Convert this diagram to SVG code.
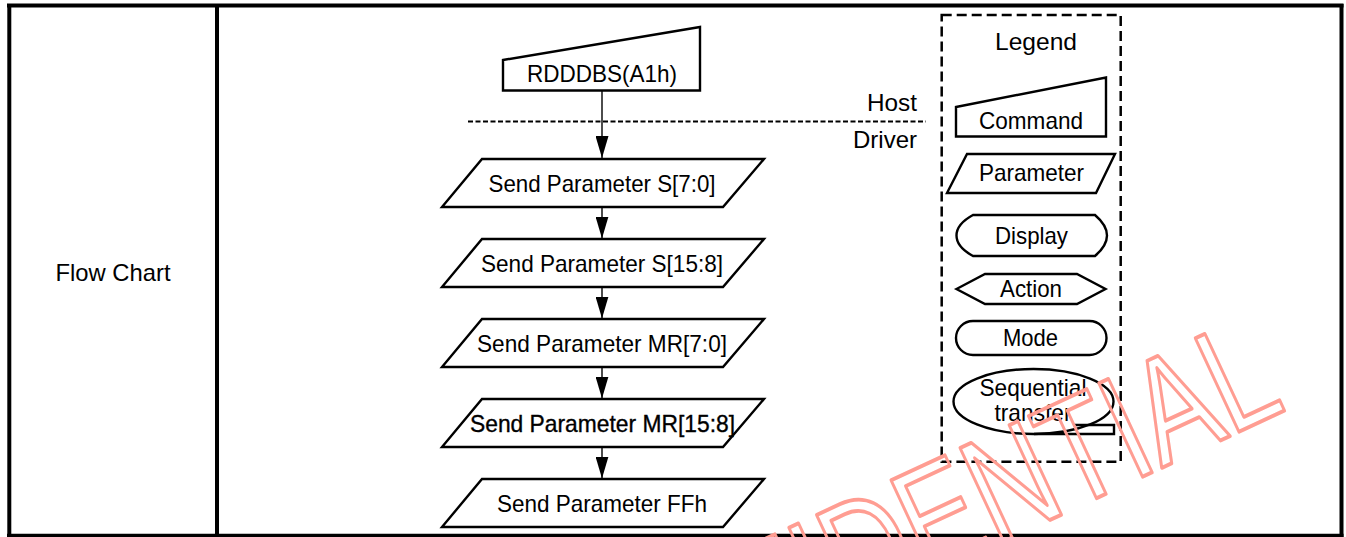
<svg xmlns="http://www.w3.org/2000/svg" width="1346" height="537" viewBox="0 0 1346 537">
<style>
  .frame { stroke: #000; stroke-width: 4; fill: none; }
  .shape { stroke: #000; stroke-width: 2.4; fill: none; stroke-linejoin: miter; }
  .conn { stroke: #000; stroke-width: 1.4; fill: none; }
  .sep { stroke: #000; stroke-width: 2; stroke-dasharray: 5 2.5; fill: none; }
  .legendbox { stroke: #000; stroke-width: 2.5; stroke-dasharray: 10 5; fill: none; }
  text { font-family: "Liberation Sans", Arial, Helvetica, sans-serif; font-size: 24px; fill: #000; }
  .c { text-anchor: middle; }
  .r { text-anchor: end; }
  .heavy { stroke: #000; stroke-width: 0.35; }
  .wm { font-family: "Liberation Sans", Arial, sans-serif; font-size: 150px; fill: none; stroke: #ff9d92; stroke-width: 3.4; stroke-linejoin: round; text-anchor: end; }
</style>
<defs>
  <marker id="ah" markerUnits="userSpaceOnUse" viewBox="0 0 22 13" markerWidth="22" markerHeight="13" refX="22" refY="6.5" orient="auto">
    <path d="M0,0 L22,6.5 L0,13 z" fill="#000"/>
  </marker>
</defs>
<rect width="1346" height="537" fill="#fff"/>

<g id="table">
  <line class="frame" x1="7" y1="5.5" x2="1343.5" y2="5.5" stroke-width="3.5"/>
  <line class="frame" x1="9.3" y1="4" x2="9.3" y2="537"/>
  <line class="frame" x1="217" y1="4" x2="217" y2="537"/>
  <line class="frame" x1="1341.5" y1="4" x2="1341.5" y2="537"/>
  <line class="frame" x1="7" y1="535.8" x2="1343.5" y2="535.8" stroke-width="1.6"/>
  <text class="c" x="113" y="281" textLength="115" lengthAdjust="spacingAndGlyphs">Flow Chart</text>
</g>

<g id="connectors">
  <line class="sep" x1="468" y1="121.5" x2="926" y2="121.5"/>
  <line class="conn" x1="602" y1="90.5" x2="602" y2="158" marker-end="url(#ah)"/>
  <line class="conn" x1="602" y1="207" x2="602" y2="238.5" marker-end="url(#ah)"/>
  <line class="conn" x1="602" y1="287" x2="602" y2="318.5" marker-end="url(#ah)"/>
  <line class="conn" x1="602" y1="367" x2="602" y2="398.5" marker-end="url(#ah)"/>
  <line class="conn" x1="602" y1="447" x2="602" y2="478.5" marker-end="url(#ah)"/>
</g>

<g id="host-driver">
  <text class="r" x="917" y="111" textLength="50" lengthAdjust="spacingAndGlyphs">Host</text>
  <text class="r" x="917" y="148" textLength="64" lengthAdjust="spacingAndGlyphs">Driver</text>
</g>

<g id="cmd-rdddbs">
  <polygon class="shape" points="503,60 700,27 700,90.5 503,90.5"/>
  <text class="c" x="602" y="81.5" textLength="150" lengthAdjust="spacingAndGlyphs">RDDDBS(A1h)</text>
</g>
<g id="param-s70">
  <polygon class="shape" points="482,159 764,159 723,207 442,207"/>
  <text class="c" x="602" y="191.5" textLength="227" lengthAdjust="spacingAndGlyphs">Send Parameter S[7:0]</text>
</g>
<g id="param-s158">
  <polygon class="shape" points="482,239 764,239 723,287 442,287"/>
  <text class="c" x="602" y="271.5" textLength="242" lengthAdjust="spacingAndGlyphs">Send Parameter S[15:8]</text>
</g>
<g id="param-mr70">
  <polygon class="shape" points="482,319 764,319 723,367 442,367"/>
  <text class="c" x="602" y="351.5" textLength="250" lengthAdjust="spacingAndGlyphs">Send Parameter MR[7:0]</text>
</g>
<g id="param-mr158">
  <polygon class="shape" points="482,399 764,399 723,447 442,447"/>
  <text class="c heavy" x="602.5" y="431.5" textLength="265" lengthAdjust="spacingAndGlyphs">Send Parameter MR[15:8]</text>
</g>
<g id="param-ffh">
  <polygon class="shape" points="482,479 764,479 723,527 442,527"/>
  <text class="c" x="602" y="511.5" textLength="210" lengthAdjust="spacingAndGlyphs">Send Parameter FFh</text>
</g>

<g id="legend">
  <rect class="legendbox" x="941.7" y="15" width="179" height="446.7"/>
  <text class="c" x="1036" y="49.5" textLength="82" lengthAdjust="spacingAndGlyphs">Legend</text>
</g>
<g id="legend-command">
  <polygon class="shape" points="956,107 1106,77.5 1106,136.5 956,136.5"/>
  <text class="c" x="1031" y="128.5" textLength="104" lengthAdjust="spacingAndGlyphs">Command</text>
</g>
<g id="legend-parameter">
  <polygon class="shape" points="967,154 1115,154 1096,193 947,193"/>
  <text class="c" x="1031.5" y="180.5" textLength="105" lengthAdjust="spacingAndGlyphs">Parameter</text>
</g>
<g id="legend-display">
  <path class="shape" d="M973,215 L1095,215 C1102,221 1107,228 1107,235.5 C1107,243 1102,250 1095,256 L973,256 C962,250 956.5,243 956.5,235.5 C956.5,228 962,221 973,215 Z"/>
  <text class="c" x="1031.5" y="243.5" textLength="73" lengthAdjust="spacingAndGlyphs">Display</text>
</g>
<g id="legend-action">
  <polygon class="shape" points="956.5,289 985,274 1077,274 1105.5,289 1077,304 985,304"/>
  <text class="c" x="1031" y="296.5" textLength="62" lengthAdjust="spacingAndGlyphs">Action</text>
</g>
<g id="legend-mode">
  <rect class="shape" x="956" y="321" width="150.5" height="34" rx="17" ry="17"/>
  <text class="c" x="1030.5" y="345.5" textLength="55" lengthAdjust="spacingAndGlyphs">Mode</text>
</g>
<g id="legend-sequential">
  <ellipse class="shape" cx="1033.5" cy="401.5" rx="80" ry="32.5"/>
  <polyline class="shape" points="1073,425 1114,425 1114,434 1034,434"/>
  <text class="c" x="1033" y="395.5" textLength="107" lengthAdjust="spacingAndGlyphs">Sequential</text>
  <text class="c" x="1033" y="421" textLength="77" lengthAdjust="spacingAndGlyphs">transfer</text>
</g>

<g id="watermark">
  <text class="wm" transform="translate(1288,409) rotate(-25) scale(0.76,1)" x="0" y="0" style="vector-effect:non-scaling-stroke">CONFIDENTIAL</text>
</g>
</svg>
